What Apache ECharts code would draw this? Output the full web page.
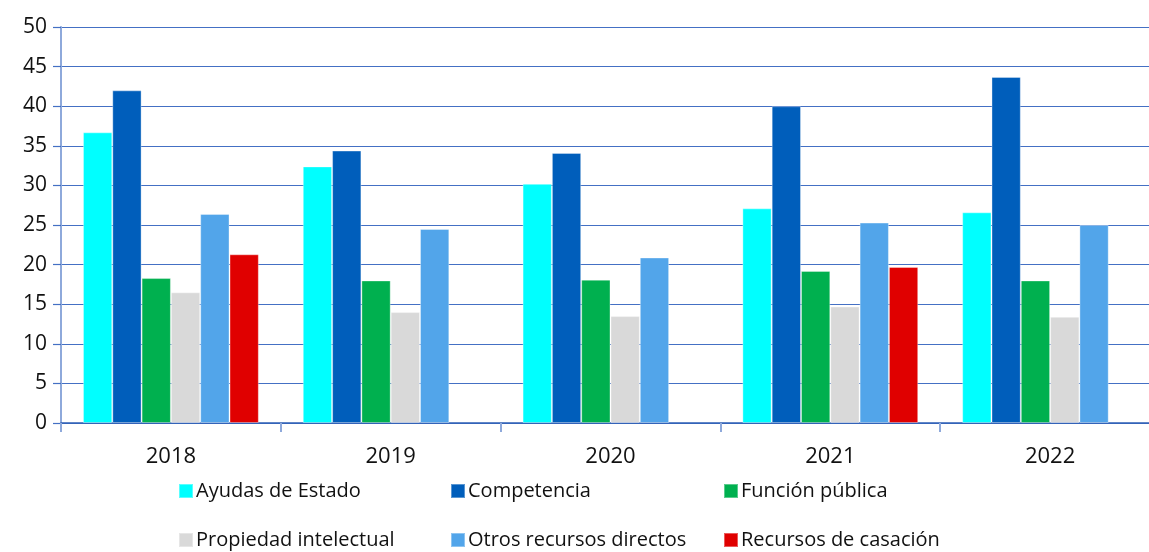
<!DOCTYPE html>
<html>
<head>
<meta charset="utf-8">
<style>
  html, body { margin: 0; padding: 0; background: #fff; }
  #chart { width: 1149px; height: 552px; }
</style>
<script src="https://cdn.jsdelivr.net/npm/echarts@6/dist/echarts.min.js"></script>
</head>
<body>
<div id="chart"></div>
<script>
// data
const years = ['2018', '2019', '2020', '2021', '2022']
const seriesNames = [
  'Ayudas de Estado',
  'Competencia',
  'Función pública',
  'Propiedad intelectual',
  'Otros recursos directos',
  'Recursos de casación'
]
const ayudas = [36.7, 32.4, 30.2, 27.1, 26.6]
const competencia = [42.0, 34.4, 34.1, 40.0, 43.7]
const funcion = [18.3, 18.0, 18.1, 19.2, 18.0]
const propiedad = [16.5, 14.0, 13.5, 14.7, 13.4]
const otros = [26.4, 24.5, 20.9, 25.3, 25.0]
const casacion = [21.3, null, null, 19.7, null]
const yTicks = [0, 5, 10, 15, 20, 25, 30, 35, 40, 45, 50]

const colors = ['#00FFFF', '#005EBB', '#00B04F', '#D9D9D9', '#52A5EA', '#E00000']
const values = [ayudas, competencia, funcion, propiedad, otros, casacion]
const fontFamily = '"Open Sans", "Noto Sans", sans-serif'

// legend: 3 columns x 2 rows, one component per item so columns line up
const legendPos = [
  { left: 178, top: 481 }, { left: 450, top: 481 }, { left: 723, top: 481 },
  { left: 178, top: 530 }, { left: 450, top: 530 }, { left: 723, top: 530 }
]
const legends = seriesNames.map((name, i) => ({
  data: [name],
  left: legendPos[i].left,
  top: legendPos[i].top,
  icon: 'rect',
  itemWidth: 14,
  itemHeight: 14,
  itemGap: 0,
  padding: 0,
  selectedMode: false,
  textStyle: { fontSize: 20, color: '#111', fontFamily: fontFamily, padding: [0, 0, 0, -2] }
}))

const chart = echarts.init(document.getElementById('chart'))
chart.setOption({
  animation: false,
  color: colors,
  legend: legends,
  // plot runs a little past the right edge of the picture
  grid: {
    left: 61,
    top: 27,
    width: 1099,
    height: 396,
    containLabel: false,
    outerBoundsMode: 'none'
  },
  xAxis: {
    type: 'category',
    data: years,
    axisLine: { lineStyle: { color: '#2E5FB5', width: 1.5 } },
    axisTick: { show: true, length: 9, lineStyle: { color: '#8EA9DB', width: 2 } },
    axisLabel: { fontSize: 22, color: '#111', margin: 23, fontFamily: fontFamily },
    splitLine: { show: false }
  },
  yAxis: {
    type: 'value',
    min: yTicks[0],
    max: yTicks[yTicks.length - 1],
    interval: 5,
    axisLine: { show: true, lineStyle: { color: '#8EA9DB', width: 2 } },
    axisTick: { show: true, length: 8, lineStyle: { color: '#4470C4', width: 1.2 } },
    axisLabel: { fontSize: 21, color: '#111', margin: 14, fontFamily: fontFamily },
    splitLine: { lineStyle: { color: '#4470C4', width: 1.2 } }
  },
  series: seriesNames.map((name, i) => ({
    name: name,
    type: 'bar',
    data: values[i],
    barGap: 0,
    barCategoryGap: '20%',
    itemStyle: {
      color: colors[i],
      borderColor: 'rgba(255,255,255,0.35)',
      borderWidth: 1
    }
  }))
})
</script>
</body>
</html>
